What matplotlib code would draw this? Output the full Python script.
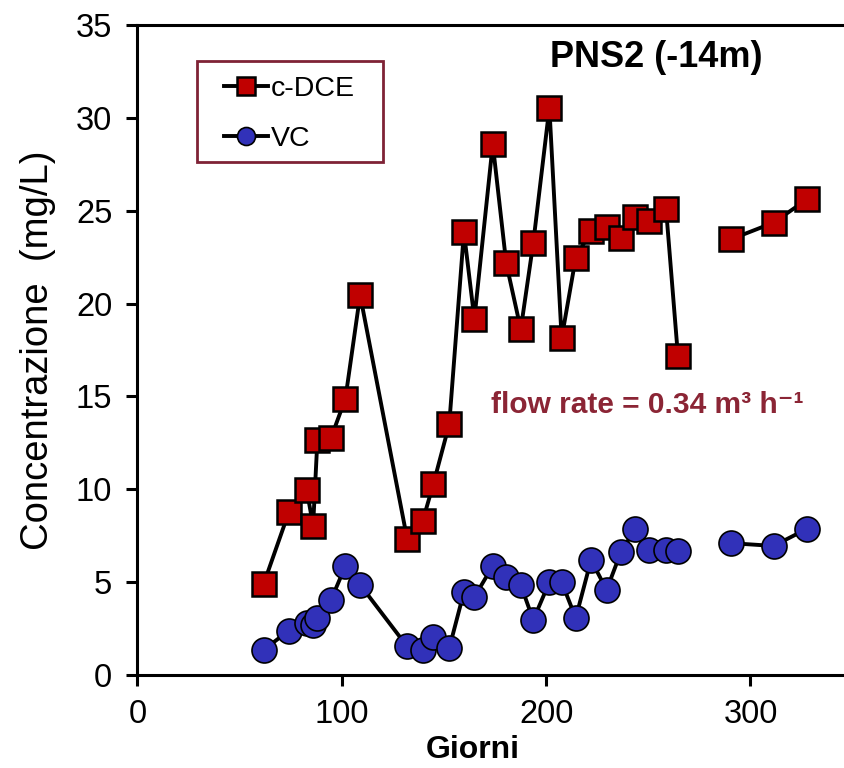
import matplotlib
import numpy as np

matplotlib.use("Agg")
import matplotlib.pyplot as plt
from matplotlib.patches import Rectangle

# sampling days and concentrations (mg/L)
giorni = [61.8, 74.1, 82.9, 86.0, 88.1, 94.8, 101.8, 109.0, 132.0, 139.6, 144.8,
          152.6, 159.8, 164.9, 173.9, 180.5, 187.6, 193.7, 201.6, 207.6, 214.5,
          222.0, 229.6, 236.6, 243.5, 250.5, 258.7, 264.5, 290.4, 311.3, 327.6]
c_dce = [4.90, 8.76, 9.96, 8.04, 12.65, 12.78, 14.88, 20.46, 7.34, 8.29, 10.27,
         13.50, 23.85, 19.17, 28.59, 22.17, 18.62, 23.25, 30.55, 18.13, 22.47,
         23.92, 24.14, 23.55, 24.68, 24.46, 25.08, 17.19, 23.46, 24.36, 25.61]
vc = [1.35, 2.39, 2.78, 2.69, 3.08, 4.05, 5.87, 4.86, 1.54, 1.33, 2.05,
      1.44, 4.47, 4.20, 5.87, 5.28, 4.85, 2.96, 5.00, 5.00, 3.07,
      6.20, 4.58, 6.62, 7.86, 6.75, 6.72, 6.70, 7.10, 6.95, 7.87]

x_ticks = [0, 100, 200, 300]
y_ticks = list(range(0, 36, 5))

plt.rcParams["font.family"] = ["Liberation Sans", "DejaVu Sans"]


def with_gap(x, y, max_step=25):
    # break the line where sampling stopped for a while
    x = np.asarray(x, float)
    y = np.asarray(y, float)
    cut = np.where(np.diff(x) > max_step)[0] + 1
    return np.insert(x, cut, np.nan), np.insert(y, cut, np.nan)


fig = plt.figure(figsize=(8.44, 7.68), dpi=100)
ax = fig.add_axes([0.1627, 0.1211, 0.8476, 0.8463])

xd, yd = with_gap(giorni, c_dce)
ax.plot(xd, yd, "-s", color="black", lw=2.8, ms=17.5, mfc="#C00000",
        mec="black", mew=1.8, label="c-DCE", zorder=3)
xv, yv = with_gap(giorni, vc)
ax.plot(xv, yv, "-o", color="black", lw=2.8, ms=18, mfc="#3131B9",
        mec="black", mew=1.2, label="VC", zorder=3)

ax.set_xlim(0, 350)
ax.set_ylim(0, 35)
ax.set_xticks(x_ticks)
ax.set_yticks(y_ticks)
ax.tick_params(direction="out", length=8, width=2.2, labelsize=23.5)
ax.tick_params(axis="x", pad=9)
ax.tick_params(axis="y", pad=10)
for side in ["left", "bottom", "top"]:
    ax.spines[side].set_linewidth(2.2)
ax.spines["right"].set_visible(False)

ax.set_xlabel("Giorni", fontsize=23, fontweight="bold")
ax.xaxis.set_label_coords(0.469, -0.093)
ax.set_ylabel("Concentrazione  (mg/L)", fontsize=27.5, labelpad=14)

ax.text(0.725, 0.95, "PNS2 (-14m)", transform=ax.transAxes, fontsize=26,
        fontweight="bold", ha="center", va="center")
ax.text(0.713, 0.415, "flow rate = 0.34 m³ h⁻¹",
        transform=ax.transAxes, fontsize=21.5, fontweight="bold",
        color="#8B2535", ha="center", va="center")

# legend box is drawn separately: the original has wider side than top padding
ax.add_patch(Rectangle((0.0834, 0.789), 0.26, 0.1556, transform=ax.transAxes,
                       fill=False, edgecolor="#7F2235", lw=2, zorder=4))
ax.legend(loc="upper left", bbox_to_anchor=(0.1212, 0.922), fontsize=20.5,
          markerscale=0.72, handlelength=1.55, handletextpad=0.1,
          borderpad=0, borderaxespad=0, labelspacing=0.85, frameon=False)

fig.savefig("out.png", dpi=100)
